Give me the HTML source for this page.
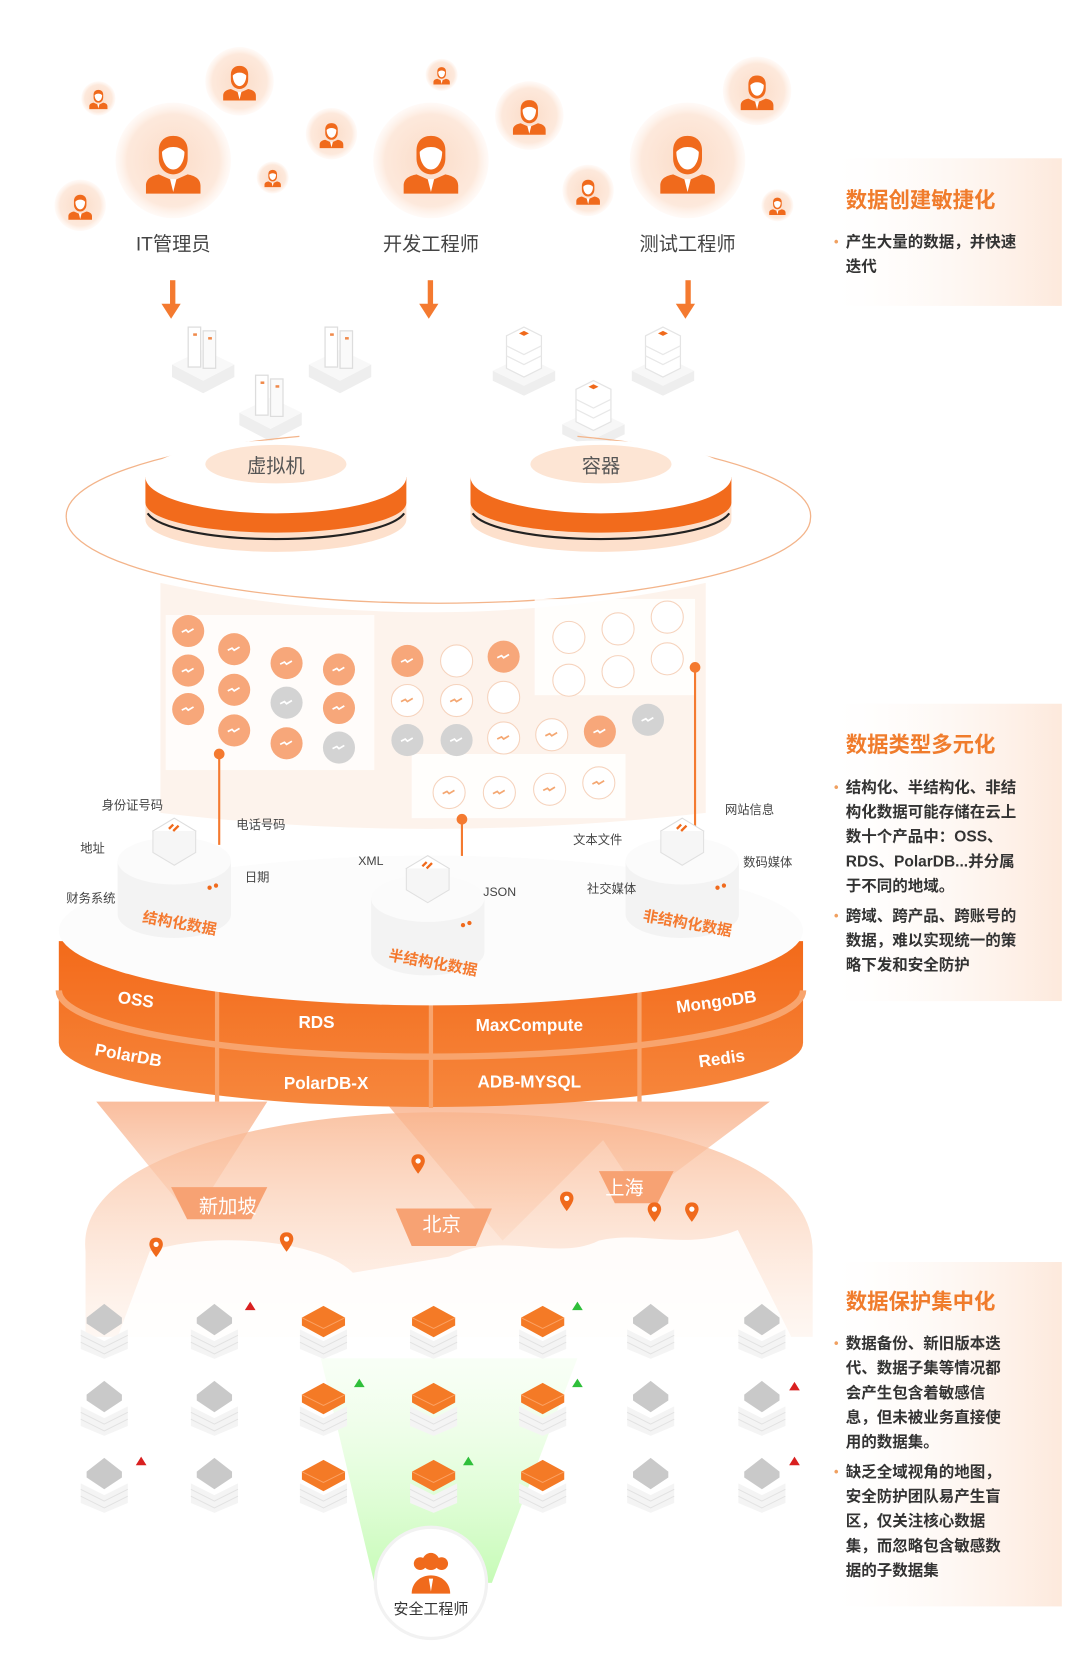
<!DOCTYPE html>
<html><head><meta charset="utf-8"><style>
html,body{margin:0;padding:0;background:#fff;}
svg{display:block;}
text{font-family:"Liberation Sans","Noto Sans CJK SC",sans-serif;}
</style></head><body>
<svg width="1080" height="1677" viewBox="0 0 1010 1568" preserveAspectRatio="none" xmlns="http://www.w3.org/2000/svg">
<defs>
<radialGradient id="halo" cx="50%" cy="50%" r="50%"><stop offset="0" stop-color="#fcdcc8"/><stop offset="0.8" stop-color="#fde9dc"/><stop offset="1" stop-color="#fff3ec" stop-opacity="0.4"/></radialGradient>
<linearGradient id="panel" x1="0" x2="1"><stop offset="0" stop-color="#fff" stop-opacity="0.3"/><stop offset="1" stop-color="#fde9dc"/></linearGradient>
<linearGradient id="side" x1="0" y1="0" x2="0" y2="1"><stop offset="0" stop-color="#f36a1a"/><stop offset="1" stop-color="#f6873d"/></linearGradient>
<linearGradient id="beam" x1="0" y1="0" x2="0" y2="1"><stop offset="0" stop-color="#f7a173" stop-opacity="0.7"/><stop offset="1" stop-color="#fbd3b9" stop-opacity="0.4"/></linearGradient>
<linearGradient id="green" x1="0" y1="0" x2="0" y2="1"><stop offset="0" stop-color="#eaffe3" stop-opacity="0.3"/><stop offset="1" stop-color="#c6fbb6"/></linearGradient>
<linearGradient id="map" x1="0" y1="0" x2="0" y2="1"><stop offset="0" stop-color="#f9b58e"/><stop offset="1" stop-color="#fde6d7" stop-opacity="0.4"/></linearGradient>
<symbol id="person" viewBox="0 0 40 40"><path d="M20 4c-6 0-9 4-9 9v5c0 6 4 10 9 10s9-4 9-10v-5c0-5-3-9-9-9z" fill="#f06a1c"/><path d="M13 14c0 6 3 11 7 11s7-5 7-11c-2-2-4-3-7-3s-5 1-7 3z" fill="#fff"/><path d="M3 40v-5c0-4 3-6 8-7l9 4 9-4c5 1 8 3 8 7v5z" fill="#f06a1c"/><path d="M18 31l2 8 2-8z" fill="#fff"/></symbol>
<symbol id="srv" viewBox="0 0 60 60"><path d="M5 35l25 13 25-13v10L30 58 5 45z" fill="#eee"/><path d="M5 35l25-12 25 12-25 13z" fill="#f8f8f8"/><rect x="18" y="5" width="10" height="32" fill="#fff" stroke="#ddd"/><rect x="30" y="8" width="10" height="30" fill="#fafafa" stroke="#ddd"/><rect x="22" y="10" width="3" height="2" fill="#f08a4b"/><rect x="34" y="13" width="3" height="2" fill="#f08a4b"/></symbol>
<symbol id="box" viewBox="0 0 60 60"><path d="M5 40l25 12 25-12v8L30 60 5 48z" fill="#eee"/><path d="M5 40l25-12 25 12-25 12z" fill="#f7f7f7"/><path d="M16 12l14-7 14 7v26l-14 7-14-7z" fill="#fff" stroke="#e4e4e4"/><path d="M16 20l14 7 14-7M16 28l14 7 14-7" fill="none" stroke="#e8e8e8"/><path d="M26 10l4-2 4 2-4 2z" fill="#f06a1c"/></symbol>
<symbol id="stackO" viewBox="0 0 60 60"><path d="M6 30l24 12 24-12v20L30 60 6 50z" fill="#f4f4f4"/><path d="M6 36l24 12 24-12M6 43l24 12 24-12" fill="none" stroke="#e2e2e2"/><path d="M8 18l22-12 22 12v8L30 38 8 26z" fill="#f47a26"/><path d="M8 18l22 11 22-11" fill="none" stroke="#fba264"/></symbol>
<symbol id="stackG" viewBox="0 0 60 60"><path d="M6 30l24 12 24-12v20L30 60 6 50z" fill="#f4f4f4"/><path d="M6 36l24 12 24-12M6 43l24 12 24-12" fill="none" stroke="#e2e2e2"/><path d="M12 18l18-14 18 14v6L30 36 12 24z" fill="#c9c9c9"/></symbol>
<symbol id="pin" viewBox="0 0 20 28"><path d="M10 0C4 0 1 4 1 9c0 6 9 17 9 17s9-11 9-17c0-5-3-9-9-9z" fill="#f06a1c"/><circle cx="10" cy="9" r="3.5" fill="#fff"/></symbol>
<symbol id="db" viewBox="0 0 110 120"><path d="M2 45v50c0 12 24 22 53 22s53-10 53-22V45z" fill="#f3f3f3"/><ellipse cx="55" cy="45" rx="53" ry="22" fill="#fbfbfb"/><path d="M55 5l20 12-20 12-20-12z" fill="#fff" stroke="#ddd"/><path d="M35 17v20l20 12 20-12V17" fill="#f6f6f6" stroke="#e0e0e0"/><path d="M50 15l4-4M54 17l5-5" stroke="#f06a1c" stroke-width="2.2"/><circle cx="88" cy="70" r="2" fill="#f06a1c"/><circle cx="94" cy="68" r="2" fill="#f06a1c"/></symbol>
</defs>

<!-- right panels -->
<rect x="783" y="148" width="210" height="138" fill="url(#panel)"/>
<text x="791" y="194" font-size="20" font-weight="bold" fill="#f07c2c">数据创建敏捷化</text>
<g font-size="14.5" fill="#333" font-weight="bold"><text x="780" y="230" fill="#f0a060" font-size="12">•</text><text x="791" y="231">产生大量的数据，并快速</text><text x="791" y="254">迭代</text></g>

<rect x="783" y="658" width="210" height="278" fill="url(#panel)"/>
<text x="791" y="703" font-size="20" font-weight="bold" fill="#f07c2c">数据类型多元化</text>
<g font-size="14.5" fill="#333" font-weight="bold"><text x="780" y="740" fill="#f0a060" font-size="12">•</text><text x="791" y="741">结构化、半结构化、非结</text><text x="791" y="764">构化数据可能存储在云上</text><text x="791" y="787">数十个产品中：OSS、</text><text x="791" y="810">RDS、PolarDB...并分属</text><text x="791" y="833">于不同的地域。</text><text x="780" y="860" fill="#f0a060" font-size="12">•</text><text x="791" y="861">跨域、跨产品、跨账号的</text><text x="791" y="884">数据，难以实现统一的策</text><text x="791" y="907">略下发和安全防护</text></g>

<rect x="783" y="1180" width="210" height="322" fill="url(#panel)"/>
<text x="791" y="1224" font-size="20" font-weight="bold" fill="#f07c2c">数据保护集中化</text>
<g font-size="14.5" fill="#333" font-weight="bold"><text x="780" y="1260" fill="#f0a060" font-size="12">•</text><text x="791" y="1261">数据备份、新旧版本迭</text><text x="791" y="1284">代、数据子集等情况都</text><text x="791" y="1307">会产生包含着敏感信</text><text x="791" y="1330">息，但未被业务直接使</text><text x="791" y="1353">用的数据集。</text><text x="780" y="1380" fill="#f0a060" font-size="12">•</text><text x="791" y="1381">缺乏全域视角的地图，</text><text x="791" y="1404">安全防护团队易产生盲</text><text x="791" y="1427">区，仅关注核心数据</text><text x="791" y="1450">集，而忽略包含敏感数</text><text x="791" y="1473">据的子数据集</text></g>

<!-- persons -->
<g>
<circle cx="162" cy="150" r="54" fill="url(#halo)"/><use href="#person" x="132" y="118" width="60" height="66"/>
<circle cx="403" cy="150" r="54" fill="url(#halo)"/><use href="#person" x="373" y="118" width="60" height="66"/>
<circle cx="643" cy="150" r="54" fill="url(#halo)"/><use href="#person" x="613" y="118" width="60" height="66"/>
<circle cx="92" cy="92" r="16" fill="url(#halo)"/><use href="#person" x="82" y="81" width="20" height="22"/>
<circle cx="224" cy="76" r="32" fill="url(#halo)"/><use href="#person" x="206" y="56" width="36" height="40"/>
<circle cx="310" cy="125" r="24" fill="url(#halo)"/><use href="#person" x="297" y="111" width="26" height="29"/>
<circle cx="255" cy="166" r="15" fill="url(#halo)"/><use href="#person" x="246" y="156" width="18" height="20"/>
<circle cx="75" cy="192" r="24" fill="url(#halo)"/><use href="#person" x="62" y="178" width="26" height="29"/>
<circle cx="413" cy="70" r="15" fill="url(#halo)"/><use href="#person" x="404" y="60" width="18" height="20"/>
<circle cx="495" cy="108" r="32" fill="url(#halo)"/><use href="#person" x="477" y="88" width="36" height="40"/>
<circle cx="550" cy="178" r="24" fill="url(#halo)"/><use href="#person" x="537" y="164" width="26" height="29"/>
<circle cx="708" cy="85" r="32" fill="url(#halo)"/><use href="#person" x="690" y="65" width="36" height="40"/>
<circle cx="727" cy="192" r="15" fill="url(#halo)"/><use href="#person" x="718" y="182" width="18" height="20"/>
</g>
<g font-size="18" fill="#444" text-anchor="middle"><text x="162" y="234">IT管理员</text><text x="403" y="234">开发工程师</text><text x="643" y="234">测试工程师</text></g>
<g fill="#f47a30"><rect x="159" y="262" width="5" height="24"/><path d="M151 284h18l-9 14z"/><rect x="400" y="262" width="5" height="24"/><path d="M392 284h18l-9 14z"/><rect x="641" y="262" width="5" height="24"/><path d="M632 284h18l-9 14z"/></g>

<!-- servers -->
<use href="#srv" x="155" y="300" width="70" height="70"/><use href="#srv" x="283" y="300" width="70" height="70"/><use href="#srv" x="218" y="345" width="70" height="70"/>
<use href="#box" x="455" y="300" width="70" height="70"/><use href="#box" x="585" y="300" width="70" height="70"/><use href="#box" x="520" y="350" width="70" height="70"/>

<!-- big ellipse platform -->
<path d="M62 484 A348 80 0 0 0 758 484 A348 80 0 0 0 540 408" fill="none" stroke="#f3b48a" stroke-width="1.2"/>
<path d="M280 408 A348 80 0 0 0 62 484" fill="none" stroke="#f3b48a" stroke-width="1.2"/>
<!-- cylinders -->
<g>
<path d="M136 446v40c0 16 55 30 122 30s122-14 122-30v-40z" fill="#fde0cc"/>
<path d="M136 446v24c0 16 55 28 122 28s122-12 122-28v-24z" fill="#f26b1c"/>
<path d="M138 480c10 14 60 24 120 24s110-10 120-24" fill="none" stroke="#222" stroke-width="2"/>
<ellipse cx="258" cy="446" rx="122" ry="34" fill="#fff"/>
<ellipse cx="258" cy="434" rx="66" ry="18" fill="#fde5d4"/>
<text x="258" y="442" font-size="18" fill="#555" text-anchor="middle">虚拟机</text>
</g>
<g>
<path d="M440 446v40c0 16 55 30 122 30s122-14 122-30v-40z" fill="#fde0cc"/>
<path d="M440 446v24c0 16 55 28 122 28s122-12 122-28v-24z" fill="#f26b1c"/>
<path d="M442 480c10 14 60 24 120 24s110-10 120-24" fill="none" stroke="#222" stroke-width="2"/>
<ellipse cx="562" cy="446" rx="122" ry="34" fill="#fff"/>
<ellipse cx="562" cy="434" rx="66" ry="18" fill="#fde5d4"/>
<text x="562" y="442" font-size="18" fill="#555" text-anchor="middle">容器</text>
</g>

<!-- data icons area -->
<path d="M150 545 Q400 600 660 545 L660 760 Q400 790 150 760z" fill="#fdf3ec"/>
<rect x="155" y="575" width="195" height="145" fill="#fff" opacity="0.75"/>
<rect x="500" y="560" width="150" height="90" fill="#fff" opacity="0.85"/>
<rect x="385" y="705" width="200" height="60" fill="#fff" opacity="0.85"/>
<g>
<g fill="#f7a77a">
<circle cx="176" cy="590" r="15"/><circle cx="176" cy="627" r="15"/><circle cx="176" cy="663" r="15"/>
<circle cx="219" cy="607" r="15"/><circle cx="219" cy="645" r="15"/><circle cx="219" cy="683" r="15"/>
<circle cx="268" cy="620" r="15"/><circle cx="268" cy="695" r="15"/>
<circle cx="317" cy="626" r="15"/><circle cx="317" cy="662" r="15"/>
<circle cx="381" cy="618" r="15"/><circle cx="471" cy="614" r="15"/><circle cx="561" cy="684" r="15"/>
</g>
<g fill="#d3d3d3"><circle cx="268" cy="657" r="15"/><circle cx="317" cy="699" r="15"/><circle cx="381" cy="692" r="15"/><circle cx="427" cy="692" r="15"/><circle cx="606" cy="673" r="15"/></g>
<g fill="#fff" stroke="#f6d3bd">
<circle cx="427" cy="618" r="15"/><circle cx="381" cy="655" r="15"/><circle cx="427" cy="655" r="15"/><circle cx="471" cy="652" r="15"/>
<circle cx="471" cy="690" r="15"/><circle cx="516" cy="687" r="15"/>
<circle cx="532" cy="596" r="15"/><circle cx="578" cy="588" r="15"/><circle cx="624" cy="577" r="15"/>
<circle cx="532" cy="636" r="15"/><circle cx="578" cy="628" r="15"/><circle cx="624" cy="616" r="15"/>
<circle cx="420" cy="741" r="15"/><circle cx="467" cy="741" r="15"/><circle cx="514" cy="738" r="15"/><circle cx="560" cy="732" r="15"/>
</g>
<g stroke="#fff" stroke-width="1.6" fill="none">
<path d="M170 591l4-2 2 2 5-3M170 628l4-2 2 2 5-3M170 664l4-2 2 2 5-3M213 608l4-2 2 2 5-3M213 646l4-2 2 2 5-3M213 684l4-2 2 2 5-3M262 621l4-2 2 2 5-3M262 696l4-2 2 2 5-3M311 627l4-2 2 2 5-3M311 663l4-2 2 2 5-3M375 619l4-2 2 2 5-3M465 615l4-2 2 2 5-3M555 685l4-2 2 2 5-3M262 658l4-2 2 2 5-3M311 700l4-2 2 2 5-3M375 693l4-2 2 2 5-3M421 693l4-2 2 2 5-3M600 674l4-2 2 2 5-3"/>
</g>
<g stroke="#f4a772" stroke-width="1.6" fill="none">
<path d="M414 742l4-2 2 2 5-3M461 742l4-2 2 2 5-3M508 739l4-2 2 2 5-3M554 733l4-2 2 2 5-3M375 656l4-2 2 2 5-3M421 656l4-2 2 2 5-3M465 691l4-2 2 2 5-3M510 688l4-2 2 2 5-3"/>
</g>
</g>
<!-- connector lines -->
<g stroke="#f47a30" stroke-width="2" fill="#f47a30"><line x1="205" y1="705" x2="205" y2="790"/><circle cx="205" cy="705" r="4"/><line x1="432" y1="766" x2="432" y2="820"/><circle cx="432" cy="766" r="4"/><line x1="650" y1="624" x2="650" y2="780"/><circle cx="650" cy="624" r="4"/></g>

<!-- beams down to map -->
<path d="M90 1030 L250 1030 L180 1140 Z M360 1030 L600 1030 L470 1160 Z M540 1030 L720 1030 L600 1120 Z" fill="url(#beam)"/>

<!-- big disk -->
<path d="M55 880 L55 975 A348 60 0 0 0 751 975 L751 880 Z" fill="url(#side)"/>
<path d="M55 926 A348 62 0 0 0 751 926" fill="none" stroke="#f8a46d" stroke-width="6"/>
<g stroke="#f8a46d" stroke-width="4"><line x1="203" y1="925" x2="203" y2="1030"/><line x1="403" y1="935" x2="403" y2="1036"/><line x1="598" y1="928" x2="598" y2="1030"/></g>
<ellipse cx="403" cy="870" rx="348" ry="70" fill="#fcfcfc"/>
<g font-size="16" font-weight="bold" fill="#fff" text-anchor="middle">
<text x="127" y="940" transform="rotate(8 127 935)">OSS</text>
<text x="296" y="961">RDS</text>
<text x="495" y="964">MaxCompute</text>
<text x="670" y="942" transform="rotate(-8 670 937)">MongoDB</text>
<text x="120" y="992" transform="rotate(10 120 987)">PolarDB</text>
<text x="305" y="1018">PolarDB-X</text>
<text x="495" y="1017">ADB-MYSQL</text>
<text x="675" y="995" transform="rotate(-8 675 990)">Redis</text>
</g>

<!-- DB pillars -->
<use href="#db" x="108" y="760" width="110" height="120"/>
<use href="#db" x="345" y="795" width="110" height="120"/>
<use href="#db" x="583" y="760" width="110" height="120"/>
<g font-size="14" font-weight="bold" fill="#f47a30" text-anchor="middle">
<text x="168" y="868" transform="rotate(10 168 863)">结构化数据</text>
<text x="405" y="905" transform="rotate(10 405 900)">半结构化数据</text>
<text x="643" y="868" transform="rotate(10 643 863)">非结构化数据</text>
</g>
<g font-size="11.5" fill="#444">
<text x="95" y="757">身份证号码</text><text x="221" y="775">电话号码</text><text x="75" y="797">地址</text><text x="229" y="824">日期</text><text x="62" y="844">财务系统</text>
<text x="335" y="809">XML</text><text x="452" y="838">JSON</text>
<text x="536" y="789">文本文件</text><text x="678" y="761">网站信息</text><text x="695" y="810">数码媒体</text><text x="549" y="835">社交媒体</text>
</g>

<!-- map -->
<path d="M80 1170 C70 1080 260 1040 410 1040 C600 1040 760 1080 760 1170 L760 1250 L80 1250 Z" fill="url(#map)" opacity="0.8"/>
<path d="M140 1170 C200 1150 300 1160 330 1190 L420 1175 C470 1150 520 1180 560 1160 C600 1150 640 1170 690 1150 L740 1250 L110 1250 Z" fill="#fff" opacity="0.85"/>
<path d="M160 1110 L250 1110 L235 1140 L175 1140 Z" fill="#f7a273"/>
<path d="M370 1130 L460 1130 L445 1165 L385 1165 Z" fill="#f7a273"/>
<path d="M560 1095 L630 1095 L615 1125 L575 1125 Z" fill="#f7a273"/>
<g font-size="18" fill="#fff" text-anchor="middle"><text x="213" y="1134">新加坡</text><text x="413" y="1151">北京</text><text x="584" y="1117">上海</text></g>
<use href="#pin" x="139" y="1157" width="14" height="20"/><use href="#pin" x="261" y="1152" width="14" height="20"/><use href="#pin" x="384" y="1079" width="14" height="20"/><use href="#pin" x="523" y="1114" width="14" height="20"/><use href="#pin" x="605" y="1124" width="14" height="20"/><use href="#pin" x="640" y="1124" width="14" height="20"/>

<!-- green beam -->
<path d="M300 1270 L540 1270 L460 1480 L350 1480 Z" fill="url(#green)"/>

<!-- server grid -->
<g>
<use href="#stackG" x="70" y="1213" width="55" height="60"/><use href="#stackG" x="173" y="1213" width="55" height="60"/><use href="#stackO" x="275" y="1213" width="55" height="60"/><use href="#stackO" x="378" y="1213" width="55" height="60"/><use href="#stackO" x="480" y="1213" width="55" height="60"/><use href="#stackG" x="581" y="1213" width="55" height="60"/><use href="#stackG" x="685" y="1213" width="55" height="60"/>
<use href="#stackG" x="70" y="1285" width="55" height="60"/><use href="#stackG" x="173" y="1285" width="55" height="60"/><use href="#stackO" x="275" y="1285" width="55" height="60"/><use href="#stackO" x="378" y="1285" width="55" height="60"/><use href="#stackO" x="480" y="1285" width="55" height="60"/><use href="#stackG" x="581" y="1285" width="55" height="60"/><use href="#stackG" x="685" y="1285" width="55" height="60"/>
<use href="#stackG" x="70" y="1357" width="55" height="60"/><use href="#stackG" x="173" y="1357" width="55" height="60"/><use href="#stackO" x="275" y="1357" width="55" height="60"/><use href="#stackO" x="378" y="1357" width="55" height="60"/><use href="#stackO" x="480" y="1357" width="55" height="60"/><use href="#stackG" x="581" y="1357" width="55" height="60"/><use href="#stackG" x="685" y="1357" width="55" height="60"/>
</g>
<g fill="#d92020"><path d="M229 1225l5-8 5 8z"/><path d="M738 1300l5-8 5 8z"/><path d="M127 1370l5-8 5 8z"/><path d="M738 1370l5-8 5 8z"/></g>
<g fill="#2fbf3a"><path d="M535 1225l5-8 5 8z"/><path d="M331 1297l5-8 5 8z"/><path d="M535 1297l5-8 5 8z"/><path d="M433 1370l5-8 5 8z"/></g>

<!-- security engineer -->
<circle cx="403" cy="1480" r="52" fill="#fff"/>
<circle cx="403" cy="1480" r="52" fill="none" stroke="#f2f2f2" stroke-width="3"/>
<g fill="#f06a1c"><circle cx="393" cy="1462" r="6"/><circle cx="413" cy="1462" r="6"/><circle cx="403" cy="1460" r="8"/><path d="M385 1490c0-10 8-17 18-17s18 7 18 17z"/></g>
<path d="M401 1476l2 12 2-12z" fill="#fff"/>
<text x="403" y="1509" font-size="14" fill="#333" text-anchor="middle">安全工程师</text>
</svg>
</body></html>
